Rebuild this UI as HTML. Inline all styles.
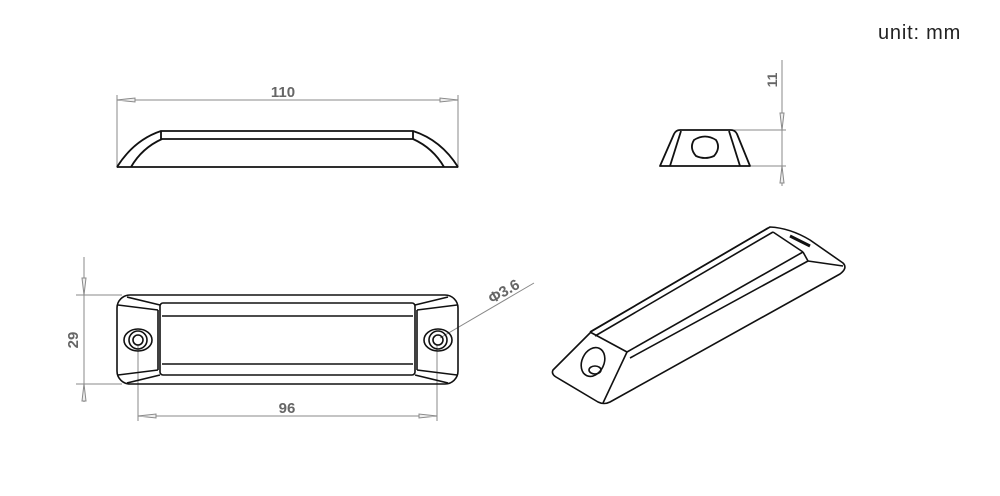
<!DOCTYPE html>
<html><head><meta charset="utf-8"><style>
html,body{margin:0;padding:0;background:#fff;}
svg{display:block}
text{font-family:"Liberation Sans",sans-serif;}
</style></head><body>
<svg width="1000" height="496" viewBox="0 0 1000 496" xmlns="http://www.w3.org/2000/svg">
<rect width="1000" height="496" fill="#fff"/>
<text x="878" y="39" font-size="20" letter-spacing="0.8" fill="#222">unit: mm</text>

<!-- Front view -->
<g stroke="#888" stroke-width="1" fill="none">
<line x1="117" y1="100" x2="458" y2="100"/>
<line x1="117" y1="95" x2="117" y2="168"/>
<line x1="458" y1="95" x2="458" y2="168"/>
<path d="M117 100 L135 98 L135 102 Z M458 100 L440 98 L440 102 Z" fill="#eee"/>
</g>
<text x="283" y="97" font-size="15" font-weight="bold" fill="#666" text-anchor="middle">110</text>
<g stroke="#111" stroke-width="1.8" fill="none" stroke-linejoin="round">
<line x1="117" y1="167" x2="458" y2="167"/>
<rect x="161" y="131" width="252" height="8"/>
<path d="M117 167 Q134 140 161 131"/>
<path d="M131 167 Q142 148 162 139"/>
<path d="M458 167 Q441 140 413 131"/>
<path d="M444 167 Q433 148 413 139"/>
</g>

<!-- Side view -->
<g stroke="#888" stroke-width="1" fill="none">
<line x1="782" y1="60" x2="782" y2="186"/>
<line x1="734" y1="130" x2="786" y2="130"/>
<line x1="750" y1="166" x2="786" y2="166"/>
<path d="M782 130 L780 113 L784 113 Z M782 166 L780 183 L784 183 Z" fill="#eee"/>
</g>
<text transform="translate(777,80) rotate(-90)" font-size="14" font-weight="bold" fill="#666" text-anchor="middle">11</text>
<g stroke="#111" stroke-width="1.8" fill="none" stroke-linejoin="round">
<path d="M660 166 L750 166 L737 134 Q735 130 731 130 L680 130 Q676 130 674 134 Z"/>
<line x1="670" y1="166" x2="681" y2="131"/>
<line x1="740" y1="166" x2="729" y2="131"/>
<path d="M694 140 Q705 133 716 140 Q721 148 714 156 Q705 160 696 156 Q689 148 694 140 Z"/>
</g>

<!-- Top view dims -->
<g stroke="#888" stroke-width="1" fill="none">
<line x1="84" y1="257" x2="84" y2="402"/>
<line x1="76" y1="295" x2="122" y2="295"/>
<line x1="76" y1="384" x2="122" y2="384"/>
<path d="M84 295 L82 278 L86 278 Z M84 384 L82 401 L86 401 Z" fill="#eee"/>
<line x1="138" y1="345" x2="138" y2="421"/>
<line x1="437" y1="345" x2="437" y2="421"/>
<line x1="138" y1="416" x2="437" y2="416"/>
<path d="M138 416 L156 414 L156 418 Z M437 416 L419 414 L419 418 Z" fill="#eee"/>
<line x1="440" y1="338" x2="534" y2="283"/>
</g>
<text transform="translate(78,340) rotate(-90)" font-size="15" font-weight="bold" fill="#666" text-anchor="middle">29</text>
<text x="287" y="413" font-size="15" font-weight="bold" fill="#666" text-anchor="middle">96</text>
<text transform="translate(492,304) rotate(-30)" font-size="15" font-weight="bold" fill="#666">Φ3.6</text>

<!-- Top view -->
<g stroke="#111" stroke-width="1.6" fill="none" stroke-linejoin="round">
<rect x="117" y="295" width="341" height="89" rx="13"/>
<rect x="160" y="303" width="255" height="72" rx="3"/>
<line x1="162" y1="316" x2="413" y2="316"/>
<line x1="162" y1="364" x2="413" y2="364"/>
<line x1="127" y1="297" x2="160" y2="305"/>
<line x1="118" y1="305" x2="158" y2="310"/>
<line x1="127" y1="383" x2="160" y2="375"/>
<line x1="118" y1="375" x2="158" y2="370"/>
<line x1="448" y1="297" x2="415" y2="305"/>
<line x1="457" y1="305" x2="417" y2="310"/>
<line x1="448" y1="383" x2="415" y2="375"/>
<line x1="457" y1="375" x2="417" y2="370"/>
<line x1="158" y1="310" x2="158" y2="370"/>
<line x1="417" y1="310" x2="417" y2="370"/>
<ellipse cx="138" cy="340" rx="14" ry="11"/>
<circle cx="138" cy="340" r="9"/>
<circle cx="138" cy="340" r="5"/>
<ellipse cx="438" cy="340" rx="14" ry="11"/>
<circle cx="438" cy="340" r="9"/>
<circle cx="438" cy="340" r="5"/>
</g>

<!-- Iso view -->
<g stroke="#111" stroke-width="1.6" fill="none" stroke-linejoin="round">
<path d="M553 370 Q551 374 556 377 L598 402 Q604 405 610 402 L840 274 Q848 268 843 263 L810 240 Q790 228 770 227 L592 331 Z"/>
<line x1="590" y1="332" x2="768" y2="228"/>
<line x1="595" y1="336" x2="773" y2="232"/>
<line x1="627" y1="352" x2="803" y2="252"/>
<line x1="630" y1="358" x2="808" y2="261"/>
<line x1="590" y1="332" x2="627" y2="352"/>
<line x1="627" y1="352" x2="603" y2="403"/>
<line x1="773" y1="232" x2="803" y2="252"/>
<line x1="803" y1="252" x2="808" y2="261"/>
<line x1="808" y1="261" x2="843" y2="266"/>
<ellipse cx="593" cy="362" rx="11" ry="15" transform="rotate(25 593 362)"/>
<ellipse cx="595" cy="370" rx="6" ry="4"/>
<path d="M790 236 L810 246" stroke-width="3"/>
</g>
</svg>
</body></html>
